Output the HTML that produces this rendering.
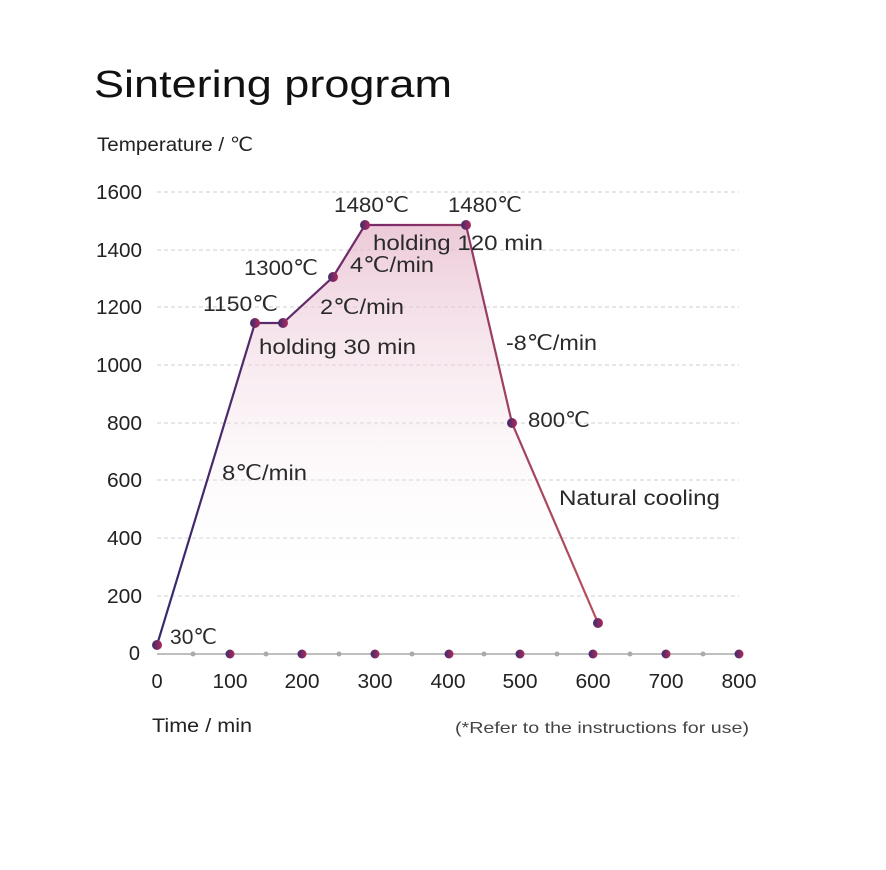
<!DOCTYPE html>
<html><head><meta charset="utf-8"><style>
html,body{margin:0;padding:0;background:#fff;}
svg{display:block;font-family:"Liberation Sans",sans-serif;}
</style></head><body>
<svg width="886" height="870" viewBox="0 0 886 870" xmlns="http://www.w3.org/2000/svg">
<defs>
<linearGradient id="fill" x1="0" y1="225" x2="0" y2="590" gradientUnits="userSpaceOnUse">
<stop offset="0" stop-color="#e6b8cb" stop-opacity="0.75"/>
<stop offset="1" stop-color="#ffffff" stop-opacity="0"/>
</linearGradient>
<linearGradient id="line" x1="157" y1="0" x2="600" y2="0" gradientUnits="userSpaceOnUse">
<stop offset="0" stop-color="#352a6c"/>
<stop offset="0.5" stop-color="#7a2a6a"/>
<stop offset="1" stop-color="#b8505a"/>
</linearGradient>
<linearGradient id="dot" x1="0" y1="0" x2="1" y2="0">
<stop offset="0" stop-color="#3b2c6e"/>
<stop offset="1" stop-color="#b0285a"/>
</linearGradient>
</defs>
<text x="94" y="97" font-size="38" fill="#111" textLength="358" lengthAdjust="spacingAndGlyphs">Sintering program</text>
<text x="97" y="151" font-size="19" fill="#222" textLength="156" lengthAdjust="spacingAndGlyphs">Temperature / ℃</text>
<g stroke="#cfcfcf" stroke-dasharray="4,3" stroke-width="1">
<line x1="157" y1="192" x2="739" y2="192"/><line x1="157" y1="250" x2="739" y2="250"/>
<line x1="157" y1="307" x2="739" y2="307"/><line x1="157" y1="365" x2="739" y2="365"/>
<line x1="157" y1="423" x2="739" y2="423"/><line x1="157" y1="480" x2="739" y2="480"/>
<line x1="157" y1="538" x2="739" y2="538"/><line x1="157" y1="596" x2="739" y2="596"/>
</g>
<g font-size="20" fill="#222" text-anchor="end">
<text x="142" y="199" textLength="46" lengthAdjust="spacingAndGlyphs">1600</text><text x="142" y="257" textLength="46" lengthAdjust="spacingAndGlyphs">1400</text><text x="142" y="314" textLength="46" lengthAdjust="spacingAndGlyphs">1200</text>
<text x="142" y="372" textLength="46" lengthAdjust="spacingAndGlyphs">1000</text><text x="142" y="430" textLength="35" lengthAdjust="spacingAndGlyphs">800</text><text x="142" y="487" textLength="35" lengthAdjust="spacingAndGlyphs">600</text>
<text x="142" y="545" textLength="35" lengthAdjust="spacingAndGlyphs">400</text><text x="142" y="603" textLength="35" lengthAdjust="spacingAndGlyphs">200</text><text x="140" y="660">0</text>
</g>
<line x1="157" y1="654" x2="743" y2="654" stroke="#aaa" stroke-width="1.5"/>
<g fill="#aaa">
<circle cx="193" cy="654" r="2.5"/><circle cx="266" cy="654" r="2.5"/><circle cx="339" cy="654" r="2.5"/>
<circle cx="412" cy="654" r="2.5"/><circle cx="484" cy="654" r="2.5"/><circle cx="557" cy="654" r="2.5"/>
<circle cx="630" cy="654" r="2.5"/><circle cx="703" cy="654" r="2.5"/>
</g>
<g fill="url(#dot)">
<circle cx="230" cy="654" r="4.5"/><circle cx="302" cy="654" r="4.5"/><circle cx="375" cy="654" r="4.5"/>
<circle cx="449" cy="654" r="4.5"/><circle cx="520" cy="654" r="4.5"/><circle cx="593" cy="654" r="4.5"/>
<circle cx="666" cy="654" r="4.5"/><circle cx="739" cy="654" r="4.5"/>
</g>
<g font-size="20" fill="#222" text-anchor="middle">
<text x="157" y="688">0</text><text x="230" y="688" textLength="35" lengthAdjust="spacingAndGlyphs">100</text><text x="302" y="688" textLength="35" lengthAdjust="spacingAndGlyphs">200</text>
<text x="375" y="688" textLength="35" lengthAdjust="spacingAndGlyphs">300</text><text x="448" y="688" textLength="35" lengthAdjust="spacingAndGlyphs">400</text><text x="520" y="688" textLength="35" lengthAdjust="spacingAndGlyphs">500</text>
<text x="593" y="688" textLength="35" lengthAdjust="spacingAndGlyphs">600</text><text x="666" y="688" textLength="35" lengthAdjust="spacingAndGlyphs">700</text><text x="739" y="688" textLength="35" lengthAdjust="spacingAndGlyphs">800</text>
</g>
<path d="M157,645 L255,323 L283,323 L333,277 L365,225 L466,225 L512,423 L598,623 L598,654 L157,654 Z" fill="url(#fill)"/>
<polyline points="157,645 255,323 283,323 333,277 365,225 466,225 512,423 598,623" fill="none" stroke="url(#line)" stroke-width="2.2"/>
<g fill="url(#dot)">
<circle cx="157" cy="645" r="5"/><circle cx="255" cy="323" r="5"/><circle cx="283" cy="323" r="5"/>
<circle cx="333" cy="277" r="5"/><circle cx="365" cy="225" r="5"/><circle cx="466" cy="225" r="5"/>
<circle cx="512" cy="423" r="5"/><circle cx="598" cy="623" r="5"/>
</g>
<g font-size="21" fill="#2a2a2a">
<text x="170" y="644" textLength="47" lengthAdjust="spacingAndGlyphs">30℃</text>
<text x="222" y="480" textLength="85" lengthAdjust="spacingAndGlyphs">8℃/min</text>
<text x="203" y="311" textLength="75" lengthAdjust="spacingAndGlyphs">1150℃</text>
<text x="259" y="354" textLength="157" lengthAdjust="spacingAndGlyphs">holding 30 min</text>
<text x="320" y="314" textLength="84" lengthAdjust="spacingAndGlyphs">2℃/min</text>
<text x="244" y="275" textLength="74" lengthAdjust="spacingAndGlyphs">1300℃</text>
<text x="350" y="272" textLength="84" lengthAdjust="spacingAndGlyphs">4℃/min</text>
<text x="334" y="212" textLength="75" lengthAdjust="spacingAndGlyphs">1480℃</text>
<text x="448" y="212" textLength="74" lengthAdjust="spacingAndGlyphs">1480℃</text>
<text x="373" y="250" textLength="170" lengthAdjust="spacingAndGlyphs">holding 120 min</text>
<text x="506" y="350" textLength="91" lengthAdjust="spacingAndGlyphs">-8℃/min</text>
<text x="528" y="427" textLength="62" lengthAdjust="spacingAndGlyphs">800℃</text>
<text x="559" y="505" textLength="161" lengthAdjust="spacingAndGlyphs">Natural cooling</text>
</g>
<text x="152" y="732" font-size="19" fill="#222" textLength="100" lengthAdjust="spacingAndGlyphs">Time / min</text>
<text x="455" y="733" font-size="16" fill="#444" textLength="294" lengthAdjust="spacingAndGlyphs">(*Refer to the instructions for use)</text>
</svg>
</body></html>
